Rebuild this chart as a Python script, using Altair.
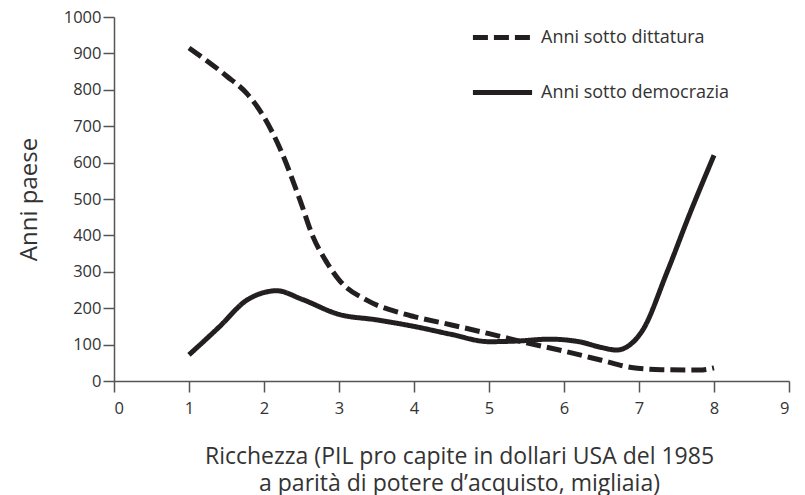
import altair as alt
import pandas as pd

# Data
dit_x = [1.0, 1.5, 1.77, 2.0, 2.2, 2.48, 2.65, 2.84, 3.0, 3.37, 3.8, 4.0, 4.5, 5.0, 5.5, 6.0, 6.5, 6.9, 7.3, 7.8, 8.0]
dit_y = [915, 838, 790, 725, 645, 497, 398, 325, 278, 222, 188, 177, 154, 130, 105, 82, 57, 37, 31, 30, 36]

dem_x = [1.0, 1.4, 1.77, 2.0, 2.17, 2.5, 3.0, 3.5, 4.0, 4.5, 5.0, 5.4, 5.8, 6.2, 6.5, 6.7, 6.84, 7.05, 7.37, 7.68, 8.0]
dem_y = [72, 148, 222, 243, 248, 225, 183, 168, 150, 128, 108, 110, 115, 108, 92, 85, 94, 140, 297, 461, 620]

series_names = ["Anni sotto dittatura", "Anni sotto democrazia"]

x_ticks = list(range(0, 10))
y_ticks = list(range(0, 1001, 100))

rows = []
for xv, yv in zip(dit_x, dit_y):
    rows.append({"x": xv, "y": yv, "serie": series_names[0]})
for xv, yv in zip(dem_x, dem_y):
    rows.append({"x": xv, "y": yv, "serie": series_names[1]})
df = pd.DataFrame(rows)

FONT = "Open Sans"
INK = "#231f20"
AX = "#555555"

chart = (
    alt.Chart(df)
    .mark_line(interpolate="monotone", strokeWidth=5, color=INK, strokeCap="butt")
    .encode(
        x=alt.X(
            "x:Q",
            scale=alt.Scale(domain=[0, 9], nice=False, zero=False),
            axis=alt.Axis(
                values=x_ticks,
                format="d",
                title=["Ricchezza (PIL pro capite in dollari USA del 1985",
                       "a parità di potere d\u2019acquisto, migliaia)"],
                grid=False,
                tickSize=11,
                labelPadding=8,
                titlePadding=29,
                titleX=345,
                titleLineHeight=27,
                titleFontSize=23,
            ),
        ),
        y=alt.Y(
            "y:Q",
            scale=alt.Scale(domain=[0, 1000], nice=False),
            axis=alt.Axis(
                values=y_ticks,
                format="d",
                title="Anni paese",
                grid=False,
                tickSize=11,
                labelPadding=2,
                titlePadding=22,
                titleFontSize=24,
            ),
        ),
        strokeDash=alt.StrokeDash(
            "serie:N",
            scale=alt.Scale(domain=series_names, range=[[15, 6], [1, 0]]),
            legend=alt.Legend(
                title=None,
                orient="none",
                legendX=356,
                legendY=-12,
                symbolType="stroke",
                symbolSize=3500,
                symbolStrokeWidth=5,
                symbolStrokeColor=INK,
                labelFont=FONT,
                labelFontSize=18,
                labelColor="#333333",
                labelLimit=400,
                labelOffset=6,
                rowPadding=12,
            ),
        ),
        detail="serie:N",
    )
    .properties(
        width=675,
        height=364,
        autosize=alt.AutoSizeParams(type="none"),
        padding={"left": 106, "top": 9, "right": 8, "bottom": 114},
    )
    .configure_view(stroke=None)
    .configure_axis(
        labelFont=FONT,
        labelFontSize=16.5,
        labelColor="#333333",
        titleFont=FONT,
        titleFontWeight="normal",
        titleColor="#333333",
        domainColor=AX,
        domainWidth=1.5,
        tickColor=AX,
        tickWidth=1.5,
    )
)

chart.save("out.html", embed_options={"renderer": "svg", "actions": False})
